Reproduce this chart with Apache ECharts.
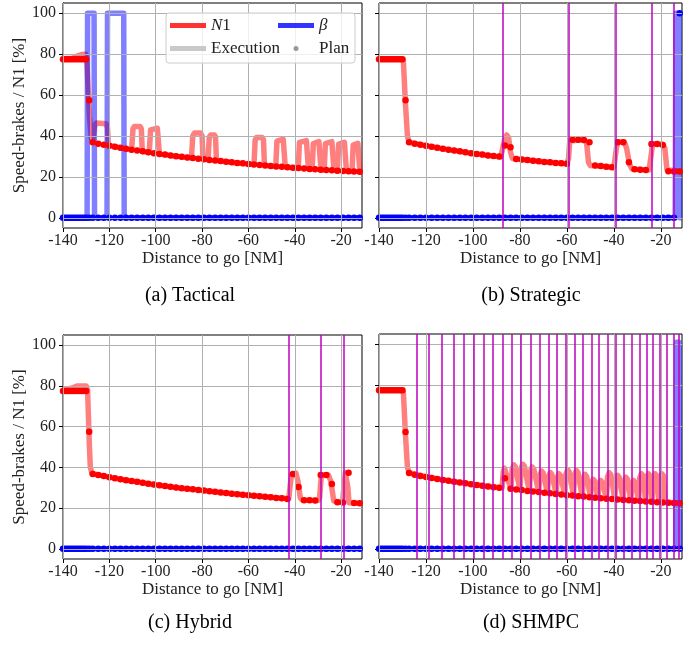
<!DOCTYPE html>
<html><head><meta charset="utf-8">
<script src="https://cdn.jsdelivr.net/npm/echarts@6/dist/echarts.min.js"></script>
<style>html,body{margin:0;padding:0;background:#fff}#c{width:697px;height:645px}</style>
</head><body><div id="c"></div>
<script>
// ---------------- DATA ----------------
const xTicks = [-140, -120, -100, -80, -60, -40, -20];
const yTicks = [0, 20, 40, 60, 80, 100];
const captions = ['(a) Tactical', '(b) Strategic', '(c) Hybrid', '(d) SHMPC'];

// plan sample positions (distance to go, NM)
const planX = [-140,-139,-138,-137,-136,-135,-134,-133,-132,-131,-130,-128.7,-127.2,
  -124.8,-122.4,-120.0,-117.6,-115.2,-112.8,-110.4,-108.0,-105.6,-103.2,-100.8,-98.4,-96.0,-93.6,-91.2,
  -88.8,-86.4,-84.0,-81.6,-79.2,-76.8,-74.4,-72.0,-69.6,-67.2,-64.8,-62.4,-60.0,-57.6,-55.2,-52.8,-50.4,
  -48.0,-45.6,-43.2,-40.8,-38.4,-36.0,-33.6,-31.2,-28.8,-26.4,-24.0,-21.6,-19.2,-16.8,-14.4,-12.0];

// N1 plan values per panel
const planN1a = [77.5,77.5,77.5,77.5,77.5,77.5,77.5,77.5,77.5,77.5,77.5,57.5,36.9,
  36.2,35.7,35.2,34.7,34.2,33.7,33.3,32.9,32.5,32.0,31.6,31.2,30.9,30.5,30.1,
  29.8,29.5,29.2,28.9,28.6,28.3,28.0,27.7,27.4,27.1,26.8,26.6,26.3,26.1,25.8,25.6,25.3,
  25.1,24.9,24.7,24.5,24.3,24.1,23.9,23.7,23.5,23.3,23.2,23.0,22.9,22.7,22.6,22.5];
const planN1b = [77.5,77.5,77.5,77.5,77.5,77.5,77.5,77.5,77.5,77.5,77.5,57.5,36.9,
  36.2,35.7,35.2,34.7,34.2,33.7,33.3,32.9,32.5,32.0,31.6,31.2,30.9,30.5,30.2,
  29.9,35.3,34.5,28.7,28.5,28.2,27.9,27.6,27.3,27.1,26.8,26.6,26.4,38.2,38.2,38.0,36.9,
  25.5,25.3,25.0,24.7,36.9,36.9,27.2,23.7,23.5,23.4,36.1,36.1,35.6,22.8,22.6,22.6];
const planN1c = [77.5,77.5,77.5,77.5,77.5,77.5,77.5,77.5,77.5,77.5,77.5,57.5,36.7,
  36.2,35.7,35.2,34.7,34.2,33.7,33.3,32.9,32.5,32.0,31.6,31.2,30.9,30.5,30.1,
  29.8,29.5,29.2,28.9,28.6,28.3,28.0,27.7,27.4,27.1,26.8,26.6,26.3,26.1,25.8,25.6,25.3,
  25.0,24.8,24.5,36.7,30.4,23.9,23.8,23.7,36.3,36.3,31.8,22.9,22.8,37.3,22.5,22.4];
const planN1d = [77.5,77.5,77.5,77.5,77.5,77.5,77.5,77.5,77.5,77.5,77.5,57.1,37.0,
  36.2,35.6,35.1,34.6,34.1,33.6,33.2,32.8,32.4,32.0,31.6,31.2,30.8,30.4,30.1,
  29.8,34.5,29.3,29.0,28.7,28.3,28.0,27.7,27.4,27.1,26.8,26.5,26.2,26.0,25.7,25.5,25.2,
  25.0,24.7,24.5,24.3,24.1,23.9,23.7,23.5,23.3,23.1,23.0,22.8,22.6,22.5,22.4,22.3];

// beta plan values per panel
const planBetaA = [0,0,0,0,0,0,0,0,0,0,0,0,0,0,0,0,0,0,0,0,0,0,0,0,0,0,0,0,0,0,0,0,0,0,0,0,0,0,0,0,0,0,0,0,0,0,0,0,0,0,0,0,0,0,0,0,0,0,0,0,0];
const planBetaB = [0,0,0,0,0,0,0,0,0,0,0,0,0,0,0,0,0,0,0,0,0,0,0,0,0,0,0,0,0,0,0,0,0,0,0,0,0,0,0,0,0,0,0,0,0,0,0,0,0,0,0,0,0,0,0,0,0,0,0,0,100];
const planBetaC = [0,0,0,0,0,0,0,0,0,0,0,0,0,0,0,0,0,0,0,0,0,0,0,0,0,0,0,0,0,0,0,0,0,0,0,0,0,0,0,0,0,0,0,0,0,0,0,0,0,0,0,0,0,0,0,0,0,0,0,0,0];
const planBetaD = [0,0,0,0,0,0,0,0,0,0,0,0,0,0,0,0,0,0,0,0,0,0,0,0,0,0,0,0,0,0,0,0,0,0,0,0,0,0,0,0,0,0,0,0,0,0,0,0,0,0,0,0,0,0,0,0,0,0,0,0,0];

// N1 execution [distance, N1]
const execN1a = [[-140,77.8],[-136,78],[-134,79],[-132,79.8],[-130.2,80],[-129.8,78],[-128.6,50],[-127.8,39],[-127.2,37.5],
  [-126.4,44.5],[-125.6,46.3],[-121.4,46],[-120.8,44],[-120.4,35.5],[-115,34.1],[-110.4,33.2],
  [-109.8,43.5],[-109.2,44.6],[-106.8,44.6],[-106.2,43.5],[-105.8,32.4],[-102.8,31.9],
  [-102.2,43],[-101.6,43.8],[-99.3,43.8],[-98.8,43],[-98.4,31.2],[-90,29.9],[-84.6,29.2],
  [-84,40],[-83.3,41.4],[-80.6,41.4],[-80,40],[-79.6,28.7],[-77.4,28.4],
  [-76.9,39.5],[-76.3,40.5],[-74.7,40.5],[-74.2,39.5],[-73.8,28],[-65,26.8],[-57.6,26.1],
  [-57.1,38],[-56.5,39.2],[-54,39.2],[-53.5,38],[-53.1,25.7],[-48.2,25.1],
  [-47.7,37.5],[-47.1,38.4],[-45,38.4],[-44.5,37.5],[-44.1,24.8],[-38.5,24.3],
  [-38,36.8],[-37.4,37.7],[-35,37.7],[-34.5,36.8],[-34.1,23.9],[-32.5,23.8],
  [-32,36.3],[-31.4,37.2],[-29.6,37.2],[-29.1,36.3],[-28.7,23.5],[-27.3,23.4],
  [-26.8,36.3],[-26.2,37.2],[-24,37.2],[-23.5,36.3],[-23.1,23.2],[-21.6,23.0],
  [-21.1,36],[-20.5,36.9],[-18.6,36.9],[-18.1,36],[-17.7,22.8],[-15.3,22.6],
  [-14.8,35.5],[-14.2,36.4],[-12.8,36.4],[-12.3,35.5],[-11.9,22.5],[-11,22.4]];
const execN1b = [[-140,77.6],[-130.2,77.6],[-129.6,76],[-128.8,57],[-127.9,40],[-127.2,37],[-120,35.2],[-110,33.2],
  [-100,31.4],[-88.2,29.7],[-87.5,33],[-86.6,38],[-85.6,40.5],[-84.8,39],[-84,32],[-83.2,29],[-80,28.6],
  [-70,27.4],[-60,26.4],[-59.3,29],[-58.8,37.5],[-58,38.3],[-52.5,38.2],[-51.6,36.5],[-50.8,27],[-50,25.5],
  [-45,25.2],[-40,24.6],[-39.3,24.5],[-38.8,35],[-38.2,37],[-35.5,37],[-34.6,34],[-33.3,26],[-32.3,23.8],
  [-25,23.4],[-24.2,24],[-23.6,35],[-23,36.2],[-19.2,36],[-18.3,34],[-17.4,23.5],[-16.6,22.8],[-11,22.6]];
const execN1c = [[-140,77.8],[-136,79],[-134,80],[-130,80],[-129.4,78],[-128.6,50],[-128.2,40],[-127.5,37],
  [-120,35.2],[-110,33.2],[-100,31.4],[-90,29.9],[-80,28.7],[-70,27.4],[-60,26.3],[-50,25.3],
  [-42.6,24.6],[-42,31],[-41.4,36.5],[-40.8,37.3],[-39.5,37.2],[-38.6,33],[-37.6,25],[-36.8,24],
  [-30,23.7],[-29.3,25],[-28.6,35],[-28,36.3],[-25.5,36.3],[-24.4,33],[-23.2,23.5],[-22.4,23],
  [-19.4,22.9],[-18.8,30],[-18.2,37.5],[-17.6,37.5],[-17.1,30],[-16.6,22.6],[-11,22.3]];
const execN1d = [[-140,77.6],[-130.2,77.6],[-129.6,76],[-128.8,57],[-127.9,40],[-127.2,37.2],[-120,35.2],
  [-110,33.2],[-100,31.4],[-87.6,29.7],
  [-87.1,37.5],[-86.6,39.4],[-85.9,38.5],[-83.8,29.2],
  [-83.3,39],[-82.6,41],[-81.9,40],[-80,28.7],
  [-79.5,39.3],[-78.8,41.3],[-78.1,40.3],[-76,28.2],
  [-75.5,38],[-74.8,40],[-74.1,39],[-72,27.8],
  [-71.5,36],[-70.8,38],[-70.1,37],[-68.3,27.3],
  [-67.8,35.3],[-67.1,37.3],[-66.4,36.3],[-64.6,26.9],
  [-64.1,34.7],[-63.4,36.7],[-62.7,35.7],[-60.9,26.5],
  [-60.4,36.6],[-59.7,38.6],[-59,37.6],[-57.2,26.1],
  [-56.7,36.3],[-56,38.3],[-55.3,37.3],[-53.5,25.7],
  [-53,34.4],[-52.3,36.4],[-51.6,35.4],[-50,25.4],
  [-49.5,32],[-48.8,34],[-48.1,33],[-46.8,25],
  [-46.3,31.4],[-45.6,33.4],[-44.9,32.4],[-43.2,24.7],
  [-42.7,35.2],[-42,37.2],[-41.3,36.2],[-39.6,24.4],
  [-39.1,33.9],[-38.4,35.9],[-37.7,34.9],[-36.1,24.2],
  [-35.6,33],[-34.9,35],[-34.2,34],[-32.8,23.9],
  [-32.3,31.4],[-31.6,33.4],[-30.9,32.4],[-29.5,23.6],
  [-29,34.7],[-28.3,36.7],[-27.6,35.7],[-26.5,23.4],
  [-26,34.7],[-25.3,36.7],[-24.6,35.7],[-23.7,23.2],
  [-23.2,34.7],[-22.5,36.7],[-21.8,35.7],[-20.8,23.0],
  [-20.3,34.7],[-19.6,36.7],[-18.9,35.7],[-18.2,22.8],[-11,22.3]];

// speed-brake execution [distance, beta]
const execBetaA = [[-140,0],[-129.6,0],[-129.4,100],[-126.6,100],[-126.4,0],[-121.0,0],[-120.8,100],[-113.8,100],[-113.6,0],[-11,0]];
const execBetaB = [[-140,0],[-13.9,0],[-13.6,100],[-12.3,100],[-12.0,0],[-11,0]];
const execBetaC = [[-140,0],[-11,0]];
const execBetaD = [[-140,0],[-13.7,0],[-13.4,101],[-12.3,101],[-12.0,0],[-11,0]];

// re-planning instants (vertical lines)
const replanA = [];
const replanB = [-87.4,-59.2,-39.0,-23.9,-14.7];
const replanC = [-42.4,-28.9,-18.9];
const replanD = [-123.8,-118.8,-113.3,-108.1,-103.8,-99.5,-95.5,-91.5,-87.4,-83.4,-79.6,-75.6,-71.6,-67.9,
  -64.2,-60.5,-56.8,-53.1,-49.6,-46.4,-42.8,-39.2,-35.7,-32.4,-29.1,-26.1,-23.3,-20.4,-17.4,-14.7,-12.2];

// ---------------- CHART ----------------
const FONT = 'Liberation Serif';
const panels = [
  {grid:{left:63, top:3, width:299, height:225}, n1:planN1a, beta:planBetaA, eN1:execN1a, eB:execBetaA, re:replanA, ylab:true, cap:[190,296]},
  {grid:{left:379, top:3, width:303, height:225}, n1:planN1b, beta:planBetaB, eN1:execN1b, eB:execBetaB, re:replanB, ylab:false, cap:[531,296]},
  {grid:{left:63, top:335, width:299, height:224}, n1:planN1c, beta:planBetaC, eN1:execN1c, eB:execBetaC, re:replanC, ylab:true, cap:[190,623]},
  {grid:{left:379, top:334, width:303, height:225}, n1:planN1d, beta:planBetaD, eN1:execN1d, eB:execBetaD, re:replanD, ylab:false, cap:[531,623]}
];

const chart = echarts.init(document.getElementById('c'), null, {renderer:'canvas', width:697, height:645});
const grid = [], xAxis = [], yAxis = [], series = [], graphic = [];
panels.forEach((p, i) => {
  grid.push(Object.assign({show:true, borderColor:'#000', borderWidth:1, backgroundColor:'#fff'}, p.grid));
  xAxis.push({type:'value', gridIndex:i, min:-140, max:-11,
    axisLine:{show:false, onZero:false},
    axisTick:{show:true, customValues:xTicks, length:4, lineStyle:{color:'#000', width:1}},
    axisLabel:{customValues:xTicks, fontFamily:FONT, fontSize:16, color:'#222', margin:5},
    splitLine:{show:false},
    name:'Distance to go [NM]', nameLocation:'middle', nameGap:21,
    nameTextStyle:{fontFamily:FONT, fontSize:17, color:'#222'}});
  yAxis.push({type:'value', gridIndex:i, min:-5, max:105,
    axisLine:{show:p.ylab, onZero:false, lineStyle:{color:'#3a003a', width:1}},
    axisTick:{show:true, customValues:yTicks, length:4, lineStyle:{color:'#000', width:1}},
    axisLabel:{show:p.ylab, customValues:yTicks, fontFamily:FONT, fontSize:16, color:'#222', margin:7},
    splitLine:{show:false},
    name: p.ylab ? 'Speed-brakes / N1 [%]' : '', nameLocation:'middle', nameGap:35,
    nameTextStyle:{fontFamily:FONT, fontSize:17, color:'#222'}});
  // grid lines
  series.push({type:'line', data:[], xAxisIndex:i, yAxisIndex:i, silent:true, z:1,
    markLine:{silent:true, symbol:['none','none'], label:{show:false}, animation:false,
      lineStyle:{color:'#b0b0b0', width:1, type:'solid'},
      data: xTicks.map(v => ({xAxis:v})).concat(yTicks.map(v => ({yAxis:v})))}});
  // re-planning lines
  if (p.re.length) series.push({type:'line', data:[], xAxisIndex:i, yAxisIndex:i, silent:true, z:1,
    markLine:{silent:true, symbol:['none','none'], label:{show:false}, animation:false,
      lineStyle:{color:'#bf00bf', width:1.5, type:'solid'},
      data: p.re.map(v => ({xAxis:v}))}});
  series.push({type:'line', name:'N1 execution', data:p.eN1, xAxisIndex:i, yAxisIndex:i, showSymbol:false, symbol:'none', z:2,
    lineStyle:{color:'rgba(255,0,0,0.5)', width:5.5, join:'round', cap:'butt'}, silent:true});
  series.push({type:'line', name:'beta execution', data:p.eB, xAxisIndex:i, yAxisIndex:i, showSymbol:false, symbol:'none', z:2,
    lineStyle:{color:'rgba(0,0,255,0.5)', width:5.5, join:'round', cap:'butt'}, silent:true});
  series.push({type:'scatter', name:'N1 plan', data:planX.map((x, k) => [x, p.n1[k]]), xAxisIndex:i, yAxisIndex:i,
    symbolSize:6.5, itemStyle:{color:'#ff0000', opacity:1}, z:3, silent:true});
  series.push({type:'scatter', name:'beta plan', data:planX.map((x, k) => [x, p.beta[k]]), xAxisIndex:i, yAxisIndex:i,
    symbolSize:6.5, itemStyle:{color:'#0000ff', opacity:1}, z:3, silent:true});
  graphic.push({type:'text', x:p.cap[0], y:p.cap[1], z:100,
    style:{text:captions[i], font:'20px "Liberation Serif"', fill:'#000', textAlign:'center', textVerticalAlign:'middle'}});
});
// legend dummy series
['N1','β','Execution','Plan'].forEach(n => series.push({type:'scatter', name:n, data:[], xAxisIndex:0, yAxisIndex:0}));
graphic.push({type:'rect', z:50, shape:{x:166, y:13, width:189, height:50, r:3},
  style:{fill:'rgba(255,255,255,0.8)', stroke:'#cccccc', lineWidth:1}});
const legFmt = name => name === 'N1' ? '{it|N}1' : (name === 'β' ? '{it|β}' : name);
const legText = {fontFamily:FONT, fontSize:17, color:'#222', rich:{it:{fontStyle:'italic', fontFamily:FONT, fontSize:17, color:'#222'}}};
const legend = [
  {left:170, top:17, orient:'vertical', itemWidth:36, itemHeight:5, itemGap:6, selectedMode:false, z:60, padding:0,
   formatter:legFmt, textStyle:legText,
   data:[{name:'N1', icon:'rect', itemStyle:{color:'#ff0000'}}, {name:'Execution', icon:'rect', itemStyle:{color:'#bbbbbb'}}]},
  {left:278, top:17, orient:'vertical', itemWidth:36, itemHeight:5, itemGap:6, selectedMode:false, z:60, padding:0,
   formatter:legFmt, textStyle:legText,
   data:[{name:'β', icon:'rect', itemStyle:{color:'#0000ff'}}, {name:'Plan', icon:'circle', itemStyle:{color:'#808080'}}]}
];

chart.setOption({animation:false, backgroundColor:'#fff', textStyle:{fontFamily:FONT},
  grid, xAxis, yAxis, series, legend, graphic});
</script></body></html>
